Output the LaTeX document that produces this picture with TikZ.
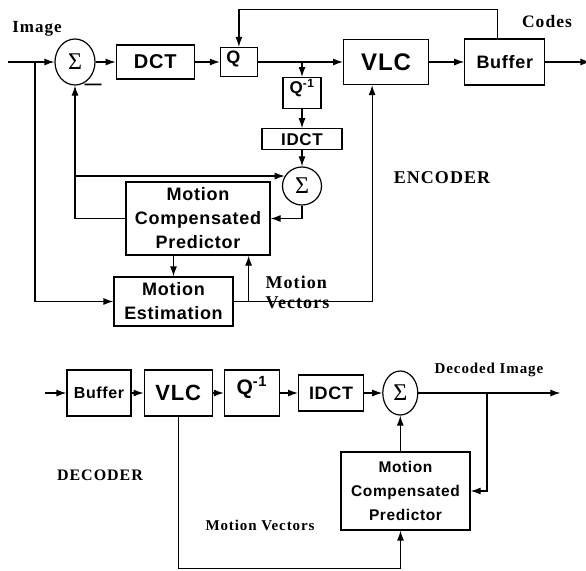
\documentclass[tikz,border=0pt]{standalone}
\usepackage{fontspec}
\setmainfont{Liberation Serif}
\newfontfamily\blockfont[LetterSpace=4]{Liberation Sans}
\newfontfamily\tagfont[LetterSpace=6]{Liberation Serif}
\usetikzlibrary{positioning,arrows.meta,shapes.geometric}

\begin{document}
\begin{tikzpicture}[
    x=1pt, y=1pt,
    line width=1.2pt,
    node distance=20pt,
    box/.style={
        draw,
        align=center,
        inner sep=1pt,
        font=\blockfont\bfseries\fontsize{#1}{24}\selectfont
    },
    sum/.style={
        draw,
        ellipse,
        inner sep=0pt,
        font=\fontsize{24}{24}\selectfont
    },
    tag/.style={
        align=left,
        inner sep=0pt,
        font=\tagfont\bfseries\fontsize{#1}{20}\selectfont
    },
    arrow/.style={-{Latex[length=10pt,width=7pt]}}
]
\useasboundingbox (0,0) rectangle (586,-570);

% encoder
\coordinate (inE) at (8,-62);
\coordinate (tapIn) at (35,-62);
\node[sum, minimum width=40pt, minimum height=46pt] (sumE) at (75,-62) {Σ};
\node[box=20, minimum width=78pt, minimum height=34pt, right=20pt of sumE] (dctE) {DCT};
\node[box=18, align=left, text width=25pt, inner xsep=6pt, inner ysep=3pt,
      text height=13pt, text depth=10pt, right=25pt of dctE] (qE) {Q};
\node[box=24, minimum width=85pt, minimum height=45pt, right=85pt of qE] (vlcE) {VLC};
\node[box=18, minimum width=80pt, minimum height=46pt, right=35pt of vlcE] (bufE) {Buffer};
\coordinate[right=45pt of bufE] (outE);

\coordinate (tapE) at (302,-62);
\node[box=17, minimum width=38pt, inner ysep=3pt, text height=13pt, text depth=12pt,
      below=15pt of tapE] (iqE) {Q\textsuperscript{-1}};
\node[box=17, minimum width=80pt, minimum height=21pt, below=19pt of iqE] (idctE) {IDCT};
\node[sum, minimum width=39pt, minimum height=38pt, below=16pt of idctE] (sumR) {Σ};

\node[box=18, minimum width=144pt, minimum height=73pt] (mcpE) at (198,-218.5) {Motion\\Compensated\\Predictor};
\node[box=18, minimum width=119pt, minimum height=49pt] (meE) at (173.5,-301.5) {Motion\\Estimation};
\coordinate[right=15pt of meE.east] (mvTap);
\coordinate (fbE) at (sumE.south |- sumR.150);

\node[tag=17] (imageE) at (37,-29) {Image};
\node[tag=17.5] (codesE) at (547,-22) {Codes};
\node[tag=18] (encoderE) at (442,-178) {ENCODER};
\node[tag=18, anchor=west] (mvE) at (265,-292) {Motion\\Vectors};
\node[inner sep=0pt, font=\blockfont\bfseries\fontsize{17}{17}\selectfont] (minusE) at (93,-87) {—};

\draw[arrow] (inE) -- (sumE);
\draw[arrow] (sumE) -- (dctE);
\draw[arrow] (dctE) -- (qE);
\draw[arrow] (qE) -- (vlcE);
\draw[arrow] (vlcE) -- (bufE);
\draw[arrow] (bufE) -- (outE);
\draw[arrow] ([xshift=-7pt]bufE.north) -- ++(0,29) -| (qE.north);
\draw[arrow] (tapE) -- (iqE);
\draw[arrow] (iqE) -- (idctE);
\draw[arrow] (idctE) -- (sumR);
\draw[arrow] (sumR.south) |- (mcpE.east);
\draw[arrow] (mcpE.west) -| (sumE.south);
\draw[arrow] (fbE) -- (sumR.150);
\draw[arrow] (mcpE.south -| meE.north) -- (meE.north);
\draw[arrow] (tapIn) |- (meE.west);
\draw[arrow] (meE.east) -| ([xshift=-14pt]vlcE.south);
\draw[arrow] (mvTap) -- (mvTap |- mcpE.south);

% decoder
\coordinate (inD) at (45,-393);
\node[box=16, minimum width=64pt, minimum height=46pt] (bufD) at (99,-393) {Buffer};
\node[box=22, minimum width=68pt, minimum height=46pt, right=12pt of bufD] (vlcD) {VLC};
\node[box=21, minimum width=55pt, minimum height=46pt, text height=14pt, text depth=12pt,
      right=11pt of vlcD] (iqD) {Q\textsuperscript{-1}};
\node[box=18, minimum width=65pt, minimum height=36pt, right=18pt of iqD] (idctD) {IDCT};
\node[sum, minimum width=35pt, minimum height=44pt, right=18pt of idctD] (sumD) {Σ};
\coordinate[right=142pt of sumD] (outD);
\coordinate (tapD) at (487,-393);
\node[box=15.5, minimum width=129pt, minimum height=78pt] (mcpD) at (405.5,-491) {Motion\\Compensated\\Predictor};

\node[tag=15] (decodedD) at (489,-370) {Decoded Image};
\node[tag=16] (decoderD) at (100,-475) {DECODER};
\node[tag=15] (mvD) at (260,-525) {Motion Vectors};

\draw[arrow] (inD) -- (bufD);
\draw[arrow] (bufD) -- (vlcD);
\draw[arrow] (vlcD) -- (iqD);
\draw[arrow] (iqD) -- (idctD);
\draw[arrow] (idctD) -- (sumD);
\draw[arrow] (sumD) -- (outD);
\draw[arrow] (tapD) |- (mcpD.east);
\draw[arrow] (mcpD.north -| sumD.south) -- (sumD.south);
\draw[arrow] (vlcD.south) -- ++(0,-152) -| ([xshift=-5pt]mcpD.south);

\end{tikzpicture}
\end{document}
